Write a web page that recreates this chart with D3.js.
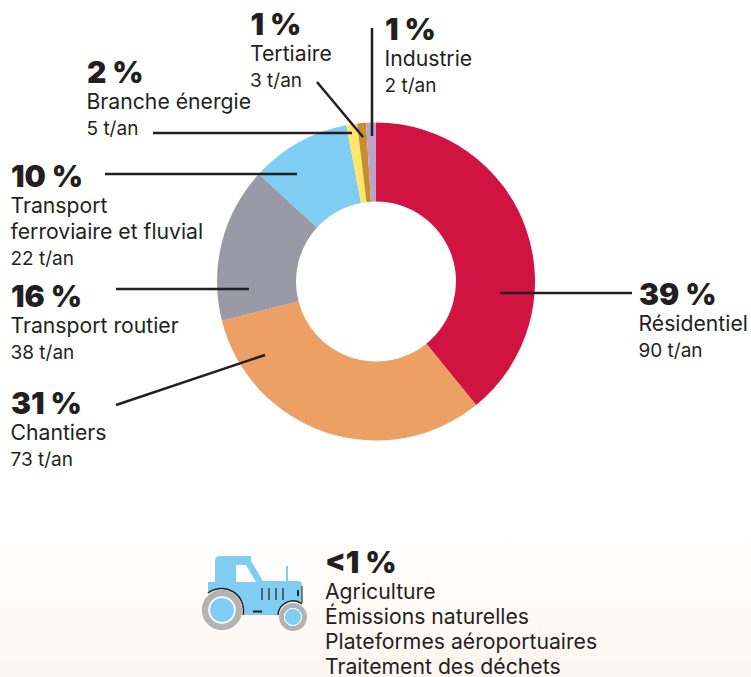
<!DOCTYPE html>
<html>
<head>
<meta charset="utf-8">
<script src="https://cdn.jsdelivr.net/npm/d3@7"></script>
<style>
html, body { margin: 0; padding: 0; background: #fff; }
svg { display: block; }
text { font-family: Inter, Roboto, sans-serif; fill: #231f20; }
.pct { font-weight: 900; font-size: 30px; }
.name { font-size: 21.2px; font-weight: 400; }
.tons { font-size: 19px; font-weight: 400; }
.bottom { font-size: 21.2px; font-weight: 400; }
.leader { stroke: #231f20; stroke-width: 2.5; fill: none; }
</style>
</head>
<body>
<svg id="chart" width="751" height="677"></svg>
<script>
const sectors = ['Résidentiel', 'Chantiers', 'Transport routier', 'Transport ferroviaire et fluvial', 'Branche énergie', 'Tertiaire', 'Industrie']
const shares = [39.2, 31.9, 15.8, 10.2, 1.1, 0.9, 1.0]
const percentLabels = ['39 %', '31 %', '16 %', '10 %', '2 %', '1 %', '1 %']
const tonLabels = ['90 t/an', '73 t/an', '38 t/an', '22 t/an', '5 t/an', '3 t/an', '2 t/an']
const sliceColors = ['#d11342', '#eda064', '#9a99a6', '#7fcdf2', '#fde668', '#c68e33', '#bca3c6']
const otherSectors = ['Agriculture', 'Émissions naturelles', 'Plateformes aéroportuaires', 'Traitement des déchets']

// where each label block sits and where its leader line runs
const labelLayout = [
    {x: 639, y: 305, nameLines: ['Résidentiel'], line: [[632, 293], [500, 293]]},
    {x: 11, y: 414, nameLines: ['Chantiers'], line: [[116, 405], [265, 355]]},
    {x: 11, y: 307, nameLines: ['Transport routier'], line: [[116, 289], [249, 289]]},
    {x: 11, y: 187, nameLines: ['Transport', 'ferroviaire et fluvial'], line: [[105, 174], [297, 174]]},
    {x: 87, y: 83, nameLines: ['Branche énergie'], line: [[153, 133], [352, 133]]},
    {x: 250.5, y: 35, nameLines: ['Tertiaire'], line: [[317, 82], [363, 137]]},
    {x: 385, y: 40, nameLines: ['Industrie'], line: [[372, 28], [372, 136]]}
]

const svg = d3.select('#chart')
const width = +svg.attr('width'), height = +svg.attr('height')
const center = {x: 376, y: 281.5}

let defs = svg.append('defs')
let grad = defs.append('linearGradient')
    .attr('id', 'bottom-fade')
    .attr('x1', 0).attr('x2', 0).attr('y1', 0).attr('y2', 1)
grad.append('stop').attr('offset', 0).attr('stop-color', '#ffffff')
grad.append('stop').attr('offset', 1).attr('stop-color', '#fdf5ef')

svg.append('rect')
    .attr('x', 0).attr('y', 530)
    .attr('width', width).attr('height', height - 530)
    .attr('fill', 'url(#bottom-fade)')

let pie = d3.pie().sort(null).value(d => d)
let arc = d3.arc().innerRadius(80).outerRadius(159)

svg.append('g')
    .attr('transform', 'translate(' + center.x + ',' + center.y + ')')
    .selectAll('path')
    .data(pie(shares))
    .enter().append('path')
    .attr('d', arc)
    .attr('fill', (d, i) => sliceColors[i])

let lineGen = d3.line()
svg.append('g').selectAll('path')
    .data(labelLayout)
    .enter().append('path')
    .attr('class', 'leader')
    .attr('d', d => lineGen(d.line))

let labels = svg.append('g').selectAll('g')
    .data(sectors)
    .enter().append('g')
    .attr('transform', (d, i) => 'translate(' + labelLayout[i].x + ',' + labelLayout[i].y + ')')

labels.append('text')
    .attr('class', 'pct')
    .text((d, i) => percentLabels[i])

labels.each(function (d, i) {
    let lines = labelLayout[i].nameLines
    let block = d3.select(this)
    lines.forEach((l, k) => {
        block.append('text')
            .attr('class', 'name')
            .attr('x', -0.5)
            .attr('y', 25.5 + k * 26)
            .text(l)
    })
    block.append('text')
        .attr('class', 'tons')
        .attr('x', -0.5)
        .attr('y', 25.5 + (lines.length - 1) * 26 + 26)
        .text(tonLabels[i])
})

// bottom block, sectors under 1 %
svg.append('text').attr('class', 'pct').attr('x', 325).attr('y', 573).text('<1 %')
svg.append('g').selectAll('text')
    .data(otherSectors)
    .enter().append('text')
    .attr('class', 'bottom')
    .attr('x', 325)
    .attr('y', (d, i) => 598.5 + i * 25.2)
    .text(d => d)

// tractor icon
let tractor = svg.append('g')
const blue = '#7fcdf2', dark = '#231f20', grey = '#b3b3b3'
tractor.append('path').attr('fill', blue)
    .attr('d', 'M215 582V561Q215 556 220 556H251V561L263 581H286V566H288V581H298Q302 581 302 585V615H208V582Z')
tractor.append('path').attr('fill', '#fff').attr('d', 'M236 565H246L256 582H236Z')
tractor.append('path').attr('fill', 'none').attr('stroke', dark).attr('stroke-width', 1.2)
    .attr('d', 'M262 588V600M269 588V600M276 588V600M283 588V600')
tractor.append('path').attr('fill', 'none').attr('stroke', dark).attr('stroke-width', 2)
    .attr('d', 'M253 611.500H262M298 590V596')
tractor.append('path').attr('fill', 'none').attr('stroke', dark).attr('stroke-width', 1)
    .attr('d', 'M302 586V603')
tractor.append('circle').attr('cx', 222).attr('cy', 610).attr('r', 22).attr('fill', '#fff')
tractor.append('circle').attr('cx', 293).attr('cy', 617).attr('r', 15.500).attr('fill', '#fff')
tractor.append('path').attr('fill', 'none').attr('stroke', dark).attr('stroke-width', 1.5)
    .attr('d', 'M208 593A22 22 0 0 1 243 615M278 615A15 15 0 0 1 302 604')
tractor.append('circle').attr('cx', 222).attr('cy', 610).attr('r', 17).attr('fill', 'none').attr('stroke', grey).attr('stroke-width', 6.500)
tractor.append('circle').attr('cx', 222).attr('cy', 610).attr('r', 12.500).attr('fill', blue).attr('stroke', '#fff').attr('stroke-width', 1)
tractor.append('circle').attr('cx', 293).attr('cy', 617).attr('r', 11.500).attr('fill', 'none').attr('stroke', grey).attr('stroke-width', 5)
tractor.append('circle').attr('cx', 293).attr('cy', 617).attr('r', 8.500).attr('fill', blue).attr('stroke', '#fff').attr('stroke-width', 1)
</script>
</body>
</html>
